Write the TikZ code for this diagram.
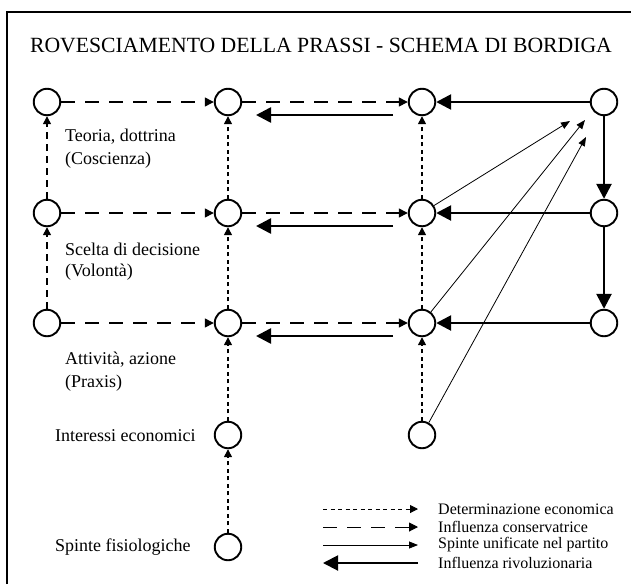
\documentclass[tikz,border=0pt]{standalone}
\usepackage{fontspec}
\setmainfont{Liberation Serif}
\usetikzlibrary{arrows.meta}
\begin{document}
\begin{tikzpicture}[x=1pt,y=-1pt,
  nd/.style={circle,draw,line width=1.9pt,minimum size=26.5pt,inner sep=0pt},
  econ/.style={line width=1.3pt,dash pattern=on 4pt off 3.5pt,-{Triangle[length=8pt,width=8pt]}},
  cons/.style={line width=1.3pt,dash pattern=on 14pt off 10pt,-{Triangle[length=9pt,width=9pt]}},
  consv/.style={line width=1.3pt,dash pattern=on 7pt off 5pt,-{Triangle[length=8pt,width=8pt]}},
  unif/.style={line width=0.8pt,-{Triangle[length=9pt,width=7pt]}},
  rev/.style={line width=2.6pt,-{Triangle[length=15pt,width=15pt]}},
  lbl/.style={font=\fontsize{18}{20}\selectfont,anchor=west,inner sep=0pt},
  leg/.style={font=\fontsize{16}{18}\selectfont,anchor=west,inner sep=0pt},
]
\useasboundingbox (0,0) rectangle (631,584);
\draw[line width=2pt] (7,584) -- (7,12) -- (631,12);
\node[font=\fontsize{21.7}{26}\selectfont,inner sep=0pt] (title) at (321,45) {ROVESCIAMENTO DELLA PRASSI - SCHEMA DI BORDIGA};

% nodes
\foreach \r/\y in {1/102,2/213,3/323}{
  \node[nd] (c1r\r) at (47,\y) {};
  \node[nd] (c4r\r) at (604,\y) {};
}
\foreach \r/\y in {1/102,2/213,3/323,4/435,5/547}{
  \node[nd] (c2r\r) at (228,\y) {};
}
\foreach \r/\y in {1/102,2/213,3/323,4/435}{
  \node[nd] (c3r\r) at (422,\y) {};
}

% labels
\node[lbl] (t1a) at (65,137) {Teoria, dottrina};
\node[lbl] (t1b) at (65,160) {(Coscienza)};
\node[lbl] (t2a) at (65,249) {Scelta di decisione};
\node[lbl] (t2b) at (65,272) {(Volontà)};
\node[lbl] (t3a) at (65,360) {Attività, azione};
\node[lbl] (t3b) at (65,383) {(Praxis)};
\node[lbl] (t4) at (55,436) {Interessi economici};
\node[lbl] (t5) at (55,547) {Spinte fisiologiche};

% conservative influence
\foreach \r in {1,2,3}{
  \draw[cons] (c1r\r) -- (c2r\r);
  \draw[cons] (c2r\r) -- (c3r\r);
  \draw[rev] (c4r\r) -- (c3r\r);
}
\draw[consv] (c1r3) -- (c1r2);
\draw[consv] (c1r2) -- (c1r1);

% economic determination
\draw[econ] (c2r5) -- (c2r4);
\draw[econ] (c2r4) -- (c2r3);
\draw[econ] (c2r3) -- (c2r2);
\draw[econ] (c2r2) -- (c2r1);
\draw[econ] (c3r4) -- (c3r3);
\draw[econ] (c3r3) -- (c3r2);
\draw[econ] (c3r2) -- (c3r1);

% revolutionary influence
\draw[rev] (c4r1) -- (c4r2);
\draw[rev] (c4r2) -- (c4r3);
\foreach \r/\y in {1/115,2/226,3/336}{
  \coordinate (ra\r) at (393,\y);
  \coordinate (rb\r) at (256,\y);
  \draw[rev] (ra\r) -- (rb\r);
}

% unified party thrusts
\coordinate (u1) at (570,121);
\coordinate (u2) at (585,120);
\coordinate (u3) at (586,137);
\draw[unif] (c3r2) -- (u1);
\draw[unif] (c3r3) -- (u2);
\draw[unif] (c3r4) -- (u3);

% legend
\coordinate (l1a) at (323,509); \coordinate (l1b) at (418,509);
\coordinate (l2a) at (323,527); \coordinate (l2b) at (418,527);
\coordinate (l3a) at (323,545); \coordinate (l3b) at (418,545);
\coordinate (l4a) at (323,563); \coordinate (l4b) at (418,563);
\draw[econ,line width=1pt] (l1a) -- (l1b);
\draw[cons,line width=1pt] (l2a) -- (l2b);
\draw[unif] (l3a) -- (l3b);
\draw[rev,line width=2pt] (l4b) -- (l4a);
\node[leg] (g1) at (438,509) {Determinazione economica};
\node[leg] (g2) at (438,527) {Influenza conservatrice};
\node[leg] (g3) at (438,545) {Spinte unificate nel partito};
\node[leg] (g4) at (438,563) {Influenza rivoluzionaria};
\end{tikzpicture}
\end{document}
